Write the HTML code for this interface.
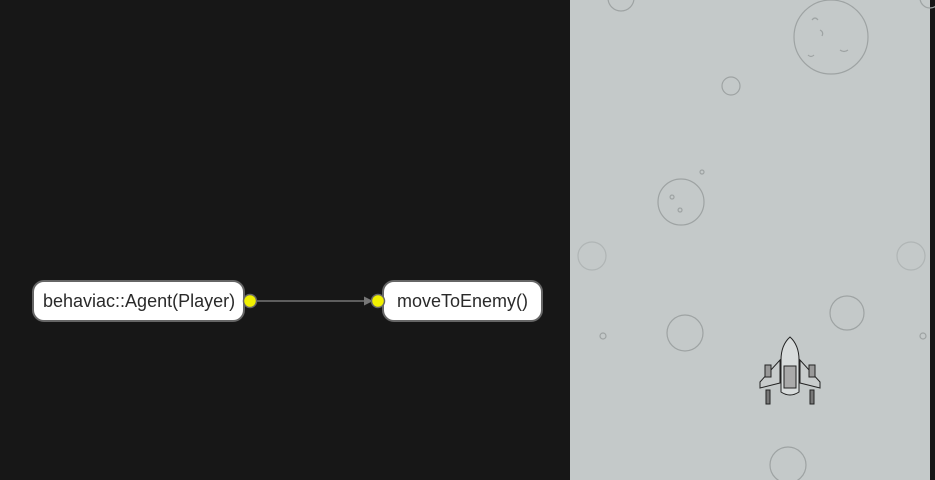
<!DOCTYPE html>
<html><head><meta charset="utf-8"><style>
html,body{margin:0;padding:0;background:#171717;}
svg{display:block;}
text{font-family:"Liberation Sans",sans-serif;}
</style></head><body>
<svg width="935" height="480" xmlns="http://www.w3.org/2000/svg">
<rect x="0" y="0" width="935" height="480" fill="#171717"/>
<rect x="570" y="0" width="360" height="480" fill="#c4c9c9"/>
<g fill="none" stroke="#9ea3a3" stroke-width="1.2">
<circle cx="621" cy="-2" r="13"/>
<circle cx="831" cy="37" r="37"/>
<circle cx="731" cy="86" r="9"/>
<circle cx="681" cy="202" r="23"/>
<circle cx="592" cy="256" r="14" stroke="#b0b5b5"/>
<circle cx="911" cy="256" r="14" stroke="#b0b5b5"/>
<circle cx="685" cy="333" r="18"/>
<circle cx="847" cy="313" r="17"/>
<circle cx="788" cy="465" r="18"/>
<circle cx="930" cy="-2" r="10"/>
<circle cx="603" cy="336" r="3"/>
<circle cx="923" cy="336" r="3"/>
<circle cx="702" cy="172" r="2"/>
<path d="M812 20 q3 -4 6 0 M820 30 q4 2 2 6 M840 50 q4 3 8 0 M808 55 q3 3 6 0"/>
<path d="M672 195 a2 2 0 1 0 0.1 0 M680 208 a2 2 0 1 0 0.1 0"/>
</g>
<g stroke="#222" stroke-width="1" fill="#b8bcbc">
<path d="M780 383 L760 388 L760 382 L780 360 Z" fill="#c8cccc"/>
<path d="M800 383 L820 388 L820 382 L800 360 Z" fill="#c8cccc"/>
<rect x="765" y="365" width="6" height="12" fill="#999"/>
<rect x="809" y="365" width="6" height="12" fill="#999"/>
<path d="M790 337 Q781 345 781 360 L781 392 Q790 398 799 392 L799 360 Q799 345 790 337 Z" fill="#d8dcdc"/>
<rect x="784" y="366" width="12" height="22" fill="#aaa"/>
<rect x="766" y="390" width="4" height="14" fill="#777"/>
<rect x="810" y="390" width="4" height="14" fill="#777"/>
</g>
<line x1="256" y1="301" x2="366" y2="301" stroke="#777" stroke-width="1.5"/>
<path d="M364 296.5 L373 301 L364 305.5 Z" fill="#777"/>
<rect x="33" y="281" width="211" height="40" rx="11" fill="#fff" stroke="#666" stroke-width="2"/>
<rect x="383" y="281" width="159" height="40" rx="11" fill="#fff" stroke="#666" stroke-width="2"/>
<circle cx="250" cy="301" r="6.5" fill="#f0f000" stroke="#666" stroke-width="1.5"/>
<circle cx="378" cy="301" r="6.5" fill="#f0f000" stroke="#666" stroke-width="1.5"/>
<text x="43" y="307" font-size="18" fill="#2a2a2a">behaviac::Agent(Player)</text>
<text x="397" y="307" font-size="18" fill="#2a2a2a">moveToEnemy()</text>
</svg>
</body></html>
